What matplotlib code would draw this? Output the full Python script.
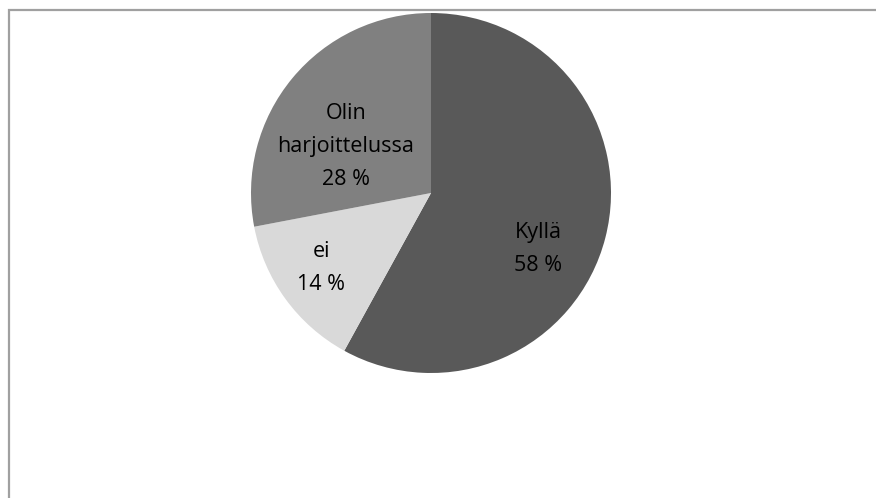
#!/usr/bin/env python3
# -*- coding: utf-8 -*-
import matplotlib
matplotlib.use("Agg")
import matplotlib.pyplot as plt
from matplotlib.patches import Rectangle

## data
labels = ["Kyllä", "ei", "Olin\nharjoittelussa"]
values = [58, 14, 28]
colors = ["#595959", "#d9d9d9", "#808080"]

## label placement (fraction of radius, x / y from centre)
label_pos = [(0.594, -0.311), (-0.611, -0.417), (-0.472, 0.261)]

W, H = 876, 498
cx, cy, r = 431, 193, 180          # pie centre / radius in pixels (from top)

fig = plt.figure(figsize=(W / 100, H / 100), dpi=100)
fig.patch.set_facecolor("white")

# chart frame: only left and top edges visible
frame = Rectangle((8.5 / W, -0.1), 1.2, 1.1 - 10.5 / H, transform=fig.transFigure,
                  fill=False, edgecolor="#a0a0a0", linewidth=1.6)
fig.add_artist(frame)

ax = fig.add_axes([(cx - r) / W, (H - cy - r) / H, 2 * r / W, 2 * r / H])
ax.pie(values, colors=colors, startangle=90, counterclock=False, radius=1,
       wedgeprops=dict(linewidth=0))
ax.set_xlim(-1, 1)
ax.set_ylim(-1, 1)
ax.set_aspect("equal")
ax.axis("off")

for lab, v, (px, py) in zip(labels, values, label_pos):
    ax.text(px, py, "%s\n%d %%" % (lab, v), ha="center", va="center",
            family="Open Sans", fontsize=15.5, color="black", linespacing=1.75)

plt.savefig("out.png", dpi=100)
